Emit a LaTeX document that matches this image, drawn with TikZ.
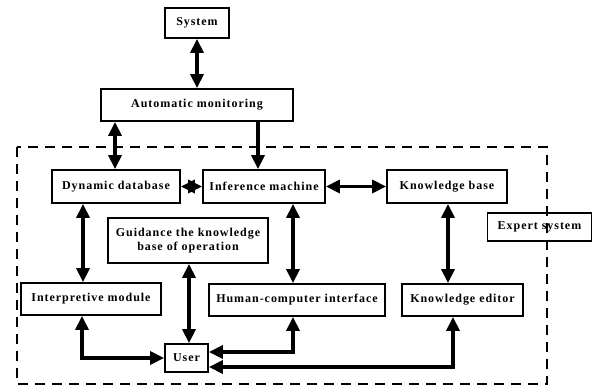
\documentclass[tikz,border=0pt]{standalone}
\usepackage{fontspec}
\setmainfont{Liberation Serif}
\usetikzlibrary{arrows.meta,calc}
\begin{document}
\begin{tikzpicture}[x=1pt,y=-1pt,
  box/.style={draw,line width=1.8pt,inner sep=0pt,align=center,font=\fontsize{12}{15}\selectfont\bfseries\addfontfeatures{LetterSpace=8}},
  dar/.style={line width=3.5pt,{Triangle[length=14pt,width=13pt]}-{Triangle[length=14pt,width=13pt]}},
  sar/.style={line width=3.5pt,-{Triangle[length=14pt,width=13pt]}}]
\useasboundingbox (0,0) rectangle (593,388);
\draw[line width=2.4pt,dash pattern=on 10pt off 7pt] (17,147) rectangle (547,384);
\node[box,minimum width=64pt,minimum height=30pt] (sys) at (197,23) {System};
\node[box,minimum width=192pt,minimum height=32pt] (auto) at (197,105) {Automatic monitoring};
\node[box,minimum width=128pt,minimum height=33pt] (dyn) at (116,186.5) {Dynamic database};
\node[box,minimum width=122pt,minimum height=33pt] (inf) at (264,186.5) {Inference machine};
\node[box,minimum width=120pt,minimum height=33pt] (kb) at (447,186.5) {Knowledge base};
\node[box,minimum width=160pt,minimum height=45pt] (guid) at (188,240.5) {Guidance the knowledge\\[-1pt]base of operation};
\node[box,minimum width=140pt,minimum height=32pt] (interp) at (91,299) {Interpretive module};
\node[box,minimum width=176pt,minimum height=32pt] (hci) at (297,300) {Human-computer interface};
\node[box,minimum width=121pt,minimum height=32pt] (ke) at (462.5,300) {Knowledge editor};
\node[box,minimum width=104pt,minimum height=28pt] (exp) at (539.5,227) {Expert system};
\node[box,minimum width=43pt,minimum height=28pt] (user) at (186.5,358) {User};
\draw[dar] (sys.south) -- (auto.north);
\draw[dar] (auto.south -| 115,0) -- (dyn.north -| 115,0);
\draw[sar] (auto.south -| 258,0) -- (inf.north -| 258,0);
\draw[dar] (dyn.east) -- (inf.west);
\draw[dar] (inf.east) -- (kb.west);
\draw[dar] (dyn.south -| 83,0) -- (interp.north -| 83,0);
\draw[dar] (inf.south -| 293,0) -- (hci.north -| 293,0);
\draw[dar] (kb.south -| 448,0) -- (ke.north -| 448,0);
\draw[dar] (guid.south -| 189,0) -- (user.north -| 189,0);
\draw[dar] (interp.south -| 82,0) |- (user.west);
\draw[dar] (hci.south -| 293,0) |- ([yshift=6pt]user.east);
\draw[dar] (ke.south -| 453,0) |- ([yshift=-9pt]user.east);
\end{tikzpicture}
\end{document}
